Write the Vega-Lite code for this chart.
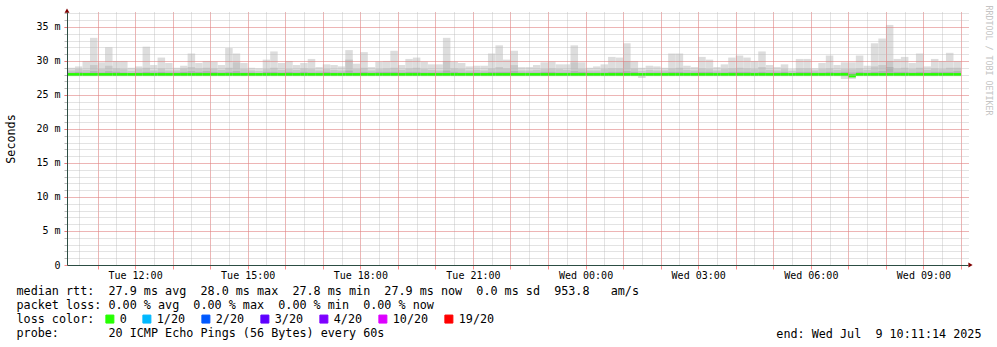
{
  "$schema": "https://vega.github.io/schema/vega-lite/v6.json",
  "width": 901,
  "height": 253,
  "autosize": "none",
  "padding": {"left": 67, "top": 12, "right": 29, "bottom": 82},
  "background": "#ffffff",
  "config": {
    "view": {"stroke": null},
    "font": "DejaVu Sans Mono",
    "axis": {"labelFont": "DejaVu Sans Mono", "titleFont": "DejaVu Sans Mono", "titleFontWeight": "normal", "labelColor": "#000000", "titleColor": "#000000"}
  },
  "data": {"values": [
    {"t":"2025-07-08T10:12","t2":"2025-07-08T10:24","lo":27.8,"med":28.0,"p1":28.3,"p2":28.6,"hi":29.0,"loss":"0"},
    {"t":"2025-07-08T10:24","t2":"2025-07-08T10:36","lo":27.8,"med":28.0,"p1":28.4,"p2":28.8,"hi":29.2,"loss":"0"},
    {"t":"2025-07-08T10:36","t2":"2025-07-08T10:48","lo":27.8,"med":28.0,"p1":28.3,"p2":28.7,"hi":30.0,"loss":"0"},
    {"t":"2025-07-08T10:48","t2":"2025-07-08T11:00","lo":27.8,"med":28.0,"p1":28.5,"p2":29.4,"hi":33.4,"loss":"0"},
    {"t":"2025-07-08T11:00","t2":"2025-07-08T11:12","lo":27.8,"med":28.0,"p1":28.3,"p2":28.8,"hi":29.8,"loss":"0"},
    {"t":"2025-07-08T11:12","t2":"2025-07-08T11:24","lo":27.8,"med":28.0,"p1":28.5,"p2":29.3,"hi":32.0,"loss":"0"},
    {"t":"2025-07-08T11:24","t2":"2025-07-08T11:36","lo":27.8,"med":28.0,"p1":28.4,"p2":28.9,"hi":30.0,"loss":"0"},
    {"t":"2025-07-08T11:36","t2":"2025-07-08T11:48","lo":27.8,"med":28.0,"p1":28.3,"p2":28.8,"hi":30.0,"loss":"0"},
    {"t":"2025-07-08T11:48","t2":"2025-07-08T12:00","lo":27.8,"med":28.0,"p1":28.2,"p2":28.5,"hi":29.0,"loss":"0"},
    {"t":"2025-07-08T12:00","t2":"2025-07-08T12:12","lo":27.8,"med":28.0,"p1":28.3,"p2":28.8,"hi":29.2,"loss":"0"},
    {"t":"2025-07-08T12:12","t2":"2025-07-08T12:24","lo":27.8,"med":28.0,"p1":28.4,"p2":29.0,"hi":32.1,"loss":"0"},
    {"t":"2025-07-08T12:24","t2":"2025-07-08T12:36","lo":27.8,"med":28.0,"p1":28.3,"p2":28.6,"hi":29.4,"loss":"0"},
    {"t":"2025-07-08T12:36","t2":"2025-07-08T12:48","lo":27.8,"med":28.0,"p1":28.4,"p2":28.9,"hi":30.5,"loss":"0"},
    {"t":"2025-07-08T12:48","t2":"2025-07-08T13:00","lo":27.8,"med":28.0,"p1":28.3,"p2":28.6,"hi":29.7,"loss":"0"},
    {"t":"2025-07-08T13:00","t2":"2025-07-08T13:12","lo":27.8,"med":28.0,"p1":28.3,"p2":28.6,"hi":29.0,"loss":"0"},
    {"t":"2025-07-08T13:12","t2":"2025-07-08T13:24","lo":27.8,"med":28.0,"p1":28.4,"p2":28.9,"hi":29.3,"loss":"0"},
    {"t":"2025-07-08T13:24","t2":"2025-07-08T13:36","lo":27.8,"med":28.0,"p1":28.5,"p2":29.1,"hi":31.1,"loss":"0"},
    {"t":"2025-07-08T13:36","t2":"2025-07-08T13:48","lo":27.8,"med":28.0,"p1":28.4,"p2":28.9,"hi":29.7,"loss":"0"},
    {"t":"2025-07-08T13:48","t2":"2025-07-08T14:00","lo":27.8,"med":28.0,"p1":28.5,"p2":29.0,"hi":30.0,"loss":"0"},
    {"t":"2025-07-08T14:00","t2":"2025-07-08T14:12","lo":27.8,"med":28.0,"p1":28.4,"p2":28.9,"hi":29.9,"loss":"0"},
    {"t":"2025-07-08T14:12","t2":"2025-07-08T14:24","lo":27.8,"med":28.0,"p1":28.3,"p2":28.7,"hi":29.4,"loss":"0"},
    {"t":"2025-07-08T14:24","t2":"2025-07-08T14:36","lo":27.8,"med":28.0,"p1":28.4,"p2":29.0,"hi":31.9,"loss":"0"},
    {"t":"2025-07-08T14:36","t2":"2025-07-08T14:48","lo":27.8,"med":28.0,"p1":28.5,"p2":29.8,"hi":31.1,"loss":"0"},
    {"t":"2025-07-08T14:48","t2":"2025-07-08T15:00","lo":27.8,"med":28.0,"p1":28.3,"p2":28.8,"hi":29.7,"loss":"0"},
    {"t":"2025-07-08T15:00","t2":"2025-07-08T15:12","lo":27.8,"med":28.0,"p1":28.3,"p2":28.6,"hi":29.0,"loss":"0"},
    {"t":"2025-07-08T15:12","t2":"2025-07-08T15:24","lo":27.8,"med":28.0,"p1":28.2,"p2":28.5,"hi":28.9,"loss":"0"},
    {"t":"2025-07-08T15:24","t2":"2025-07-08T15:36","lo":27.8,"med":28.0,"p1":28.4,"p2":28.8,"hi":30.2,"loss":"0"},
    {"t":"2025-07-08T15:36","t2":"2025-07-08T15:48","lo":27.8,"med":28.0,"p1":28.4,"p2":29.0,"hi":31.4,"loss":"0"},
    {"t":"2025-07-08T15:48","t2":"2025-07-08T16:00","lo":27.8,"med":28.0,"p1":28.3,"p2":28.7,"hi":29.7,"loss":"0"},
    {"t":"2025-07-08T16:00","t2":"2025-07-08T16:12","lo":27.8,"med":28.0,"p1":28.4,"p2":28.8,"hi":30.0,"loss":"0"},
    {"t":"2025-07-08T16:12","t2":"2025-07-08T16:24","lo":27.8,"med":28.0,"p1":28.3,"p2":28.7,"hi":29.4,"loss":"0"},
    {"t":"2025-07-08T16:24","t2":"2025-07-08T16:36","lo":27.8,"med":28.0,"p1":28.4,"p2":28.9,"hi":29.7,"loss":"0"},
    {"t":"2025-07-08T16:36","t2":"2025-07-08T16:48","lo":27.8,"med":28.0,"p1":28.3,"p2":28.8,"hi":30.3,"loss":"0"},
    {"t":"2025-07-08T16:48","t2":"2025-07-08T17:00","lo":27.8,"med":28.0,"p1":28.3,"p2":28.6,"hi":29.1,"loss":"0"},
    {"t":"2025-07-08T17:00","t2":"2025-07-08T17:12","lo":27.8,"med":28.0,"p1":28.4,"p2":28.8,"hi":29.5,"loss":"0"},
    {"t":"2025-07-08T17:12","t2":"2025-07-08T17:24","lo":27.8,"med":28.0,"p1":28.3,"p2":28.7,"hi":29.4,"loss":"0"},
    {"t":"2025-07-08T17:24","t2":"2025-07-08T17:36","lo":27.8,"med":28.0,"p1":28.3,"p2":28.6,"hi":29.2,"loss":"0"},
    {"t":"2025-07-08T17:36","t2":"2025-07-08T17:48","lo":27.8,"med":28.0,"p1":28.6,"p2":30.2,"hi":31.6,"loss":"0"},
    {"t":"2025-07-08T17:48","t2":"2025-07-08T18:00","lo":27.8,"med":28.0,"p1":28.3,"p2":28.8,"hi":29.6,"loss":"0"},
    {"t":"2025-07-08T18:00","t2":"2025-07-08T18:12","lo":27.8,"med":28.0,"p1":28.4,"p2":29.0,"hi":31.3,"loss":"0"},
    {"t":"2025-07-08T18:12","t2":"2025-07-08T18:24","lo":27.8,"med":28.0,"p1":28.3,"p2":28.6,"hi":29.1,"loss":"0"},
    {"t":"2025-07-08T18:24","t2":"2025-07-08T18:36","lo":27.8,"med":28.0,"p1":28.4,"p2":28.8,"hi":29.9,"loss":"0"},
    {"t":"2025-07-08T18:36","t2":"2025-07-08T18:48","lo":27.8,"med":28.0,"p1":28.4,"p2":28.9,"hi":30.0,"loss":"0"},
    {"t":"2025-07-08T18:48","t2":"2025-07-08T19:00","lo":27.8,"med":28.0,"p1":28.4,"p2":29.0,"hi":31.5,"loss":"0"},
    {"t":"2025-07-08T19:00","t2":"2025-07-08T19:12","lo":27.8,"med":28.0,"p1":28.3,"p2":28.7,"hi":29.4,"loss":"0"},
    {"t":"2025-07-08T19:12","t2":"2025-07-08T19:24","lo":27.8,"med":28.0,"p1":28.4,"p2":28.9,"hi":30.3,"loss":"0"},
    {"t":"2025-07-08T19:24","t2":"2025-07-08T19:36","lo":27.8,"med":28.0,"p1":28.4,"p2":29.0,"hi":30.5,"loss":"0"},
    {"t":"2025-07-08T19:36","t2":"2025-07-08T19:48","lo":27.8,"med":28.0,"p1":28.3,"p2":28.8,"hi":29.9,"loss":"0"},
    {"t":"2025-07-08T19:48","t2":"2025-07-08T20:00","lo":27.8,"med":28.0,"p1":28.3,"p2":28.7,"hi":29.5,"loss":"0"},
    {"t":"2025-07-08T20:00","t2":"2025-07-08T20:12","lo":27.8,"med":28.0,"p1":28.3,"p2":28.6,"hi":29.5,"loss":"0"},
    {"t":"2025-07-08T20:12","t2":"2025-07-08T20:24","lo":27.8,"med":28.0,"p1":28.6,"p2":30.0,"hi":33.4,"loss":"0"},
    {"t":"2025-07-08T20:24","t2":"2025-07-08T20:36","lo":27.8,"med":28.0,"p1":28.4,"p2":28.9,"hi":29.9,"loss":"0"},
    {"t":"2025-07-08T20:36","t2":"2025-07-08T20:48","lo":27.8,"med":28.0,"p1":28.3,"p2":28.8,"hi":29.7,"loss":"0"},
    {"t":"2025-07-08T20:48","t2":"2025-07-08T21:00","lo":27.8,"med":28.0,"p1":28.3,"p2":28.6,"hi":29.2,"loss":"0"},
    {"t":"2025-07-08T21:00","t2":"2025-07-08T21:12","lo":27.8,"med":28.0,"p1":28.3,"p2":28.7,"hi":29.3,"loss":"0"},
    {"t":"2025-07-08T21:12","t2":"2025-07-08T21:24","lo":27.8,"med":28.0,"p1":28.3,"p2":28.6,"hi":29.3,"loss":"0"},
    {"t":"2025-07-08T21:24","t2":"2025-07-08T21:36","lo":27.8,"med":28.0,"p1":28.4,"p2":28.9,"hi":31.1,"loss":"0"},
    {"t":"2025-07-08T21:36","t2":"2025-07-08T21:48","lo":27.8,"med":28.0,"p1":28.4,"p2":29.1,"hi":32.3,"loss":"0"},
    {"t":"2025-07-08T21:48","t2":"2025-07-08T22:00","lo":27.8,"med":28.0,"p1":28.4,"p2":28.9,"hi":30.2,"loss":"0"},
    {"t":"2025-07-08T22:00","t2":"2025-07-08T22:12","lo":27.8,"med":28.0,"p1":28.5,"p2":29.4,"hi":31.5,"loss":"0"},
    {"t":"2025-07-08T22:12","t2":"2025-07-08T22:24","lo":27.8,"med":28.0,"p1":28.3,"p2":28.6,"hi":29.1,"loss":"0"},
    {"t":"2025-07-08T22:24","t2":"2025-07-08T22:36","lo":27.8,"med":28.0,"p1":28.3,"p2":28.6,"hi":29.1,"loss":"0"},
    {"t":"2025-07-08T22:36","t2":"2025-07-08T22:48","lo":27.8,"med":28.0,"p1":28.3,"p2":28.7,"hi":29.4,"loss":"0"},
    {"t":"2025-07-08T22:48","t2":"2025-07-08T23:00","lo":27.8,"med":28.0,"p1":28.4,"p2":28.8,"hi":29.8,"loss":"0"},
    {"t":"2025-07-08T23:00","t2":"2025-07-08T23:12","lo":27.8,"med":28.0,"p1":28.4,"p2":28.9,"hi":29.9,"loss":"0"},
    {"t":"2025-07-08T23:12","t2":"2025-07-08T23:24","lo":27.8,"med":28.0,"p1":28.3,"p2":28.8,"hi":29.5,"loss":"0"},
    {"t":"2025-07-08T23:24","t2":"2025-07-08T23:36","lo":27.8,"med":28.0,"p1":28.3,"p2":28.7,"hi":29.5,"loss":"0"},
    {"t":"2025-07-08T23:36","t2":"2025-07-08T23:48","lo":27.8,"med":28.0,"p1":28.5,"p2":29.8,"hi":32.3,"loss":"0"},
    {"t":"2025-07-08T23:48","t2":"2025-07-09T00:00","lo":27.8,"med":28.0,"p1":28.4,"p2":28.8,"hi":29.8,"loss":"0"},
    {"t":"2025-07-09T00:00","t2":"2025-07-09T00:12","lo":27.8,"med":28.0,"p1":28.3,"p2":28.6,"hi":29.0,"loss":"0"},
    {"t":"2025-07-09T00:12","t2":"2025-07-09T00:24","lo":27.8,"med":28.0,"p1":28.3,"p2":28.6,"hi":29.2,"loss":"0"},
    {"t":"2025-07-09T00:24","t2":"2025-07-09T00:36","lo":27.8,"med":28.0,"p1":28.3,"p2":28.8,"hi":29.5,"loss":"0"},
    {"t":"2025-07-09T00:36","t2":"2025-07-09T00:48","lo":27.8,"med":28.0,"p1":28.4,"p2":28.9,"hi":30.6,"loss":"0"},
    {"t":"2025-07-09T00:48","t2":"2025-07-09T01:00","lo":27.8,"med":28.0,"p1":28.4,"p2":28.9,"hi":30.5,"loss":"0"},
    {"t":"2025-07-09T01:00","t2":"2025-07-09T01:12","lo":27.8,"med":28.0,"p1":28.5,"p2":30.0,"hi":32.6,"loss":"0"},
    {"t":"2025-07-09T01:12","t2":"2025-07-09T01:24","lo":27.8,"med":28.0,"p1":28.4,"p2":28.9,"hi":30.0,"loss":"0"},
    {"t":"2025-07-09T01:24","t2":"2025-07-09T01:36","lo":27.5,"med":28.0,"p1":28.2,"p2":28.5,"hi":29.0,"loss":"0"},
    {"t":"2025-07-09T01:36","t2":"2025-07-09T01:48","lo":27.8,"med":28.0,"p1":28.3,"p2":28.7,"hi":29.3,"loss":"0"},
    {"t":"2025-07-09T01:48","t2":"2025-07-09T02:00","lo":27.8,"med":28.0,"p1":28.3,"p2":28.6,"hi":29.2,"loss":"0"},
    {"t":"2025-07-09T02:00","t2":"2025-07-09T02:12","lo":27.8,"med":28.0,"p1":28.3,"p2":28.6,"hi":29.0,"loss":"0"},
    {"t":"2025-07-09T02:12","t2":"2025-07-09T02:24","lo":27.8,"med":28.0,"p1":28.4,"p2":28.9,"hi":31.1,"loss":"0"},
    {"t":"2025-07-09T02:24","t2":"2025-07-09T02:36","lo":27.8,"med":28.0,"p1":28.4,"p2":29.0,"hi":31.1,"loss":"0"},
    {"t":"2025-07-09T02:36","t2":"2025-07-09T02:48","lo":27.8,"med":28.0,"p1":28.3,"p2":28.7,"hi":29.3,"loss":"0"},
    {"t":"2025-07-09T02:48","t2":"2025-07-09T03:00","lo":27.8,"med":28.0,"p1":28.3,"p2":28.6,"hi":29.1,"loss":"0"},
    {"t":"2025-07-09T03:00","t2":"2025-07-09T03:12","lo":27.8,"med":28.0,"p1":28.4,"p2":28.9,"hi":30.6,"loss":"0"},
    {"t":"2025-07-09T03:12","t2":"2025-07-09T03:24","lo":27.8,"med":28.0,"p1":28.4,"p2":28.8,"hi":30.2,"loss":"0"},
    {"t":"2025-07-09T03:24","t2":"2025-07-09T03:36","lo":27.8,"med":28.0,"p1":28.3,"p2":28.6,"hi":29.1,"loss":"0"},
    {"t":"2025-07-09T03:36","t2":"2025-07-09T03:48","lo":27.8,"med":28.0,"p1":28.3,"p2":28.8,"hi":29.5,"loss":"0"},
    {"t":"2025-07-09T03:48","t2":"2025-07-09T04:00","lo":27.8,"med":28.0,"p1":28.4,"p2":28.9,"hi":30.5,"loss":"0"},
    {"t":"2025-07-09T04:00","t2":"2025-07-09T04:12","lo":27.8,"med":28.0,"p1":28.4,"p2":29.0,"hi":30.8,"loss":"0"},
    {"t":"2025-07-09T04:12","t2":"2025-07-09T04:24","lo":27.8,"med":28.0,"p1":28.4,"p2":28.9,"hi":30.5,"loss":"0"},
    {"t":"2025-07-09T04:24","t2":"2025-07-09T04:36","lo":27.8,"med":28.0,"p1":28.3,"p2":28.8,"hi":30.0,"loss":"0"},
    {"t":"2025-07-09T04:36","t2":"2025-07-09T04:48","lo":27.8,"med":28.0,"p1":28.4,"p2":29.1,"hi":31.4,"loss":"0"},
    {"t":"2025-07-09T04:48","t2":"2025-07-09T05:00","lo":27.8,"med":28.0,"p1":28.3,"p2":28.7,"hi":29.4,"loss":"0"},
    {"t":"2025-07-09T05:00","t2":"2025-07-09T05:12","lo":27.8,"med":28.0,"p1":28.3,"p2":28.6,"hi":29.1,"loss":"0"},
    {"t":"2025-07-09T05:12","t2":"2025-07-09T05:24","lo":27.8,"med":28.0,"p1":28.4,"p2":28.8,"hi":29.5,"loss":"0"},
    {"t":"2025-07-09T05:24","t2":"2025-07-09T05:36","lo":27.8,"med":28.0,"p1":28.2,"p2":28.5,"hi":28.8,"loss":"0"},
    {"t":"2025-07-09T05:36","t2":"2025-07-09T05:48","lo":27.8,"med":28.0,"p1":28.4,"p2":28.9,"hi":30.3,"loss":"0"},
    {"t":"2025-07-09T05:48","t2":"2025-07-09T06:00","lo":27.8,"med":28.0,"p1":28.4,"p2":28.9,"hi":30.3,"loss":"0"},
    {"t":"2025-07-09T06:00","t2":"2025-07-09T06:12","lo":27.8,"med":28.0,"p1":28.3,"p2":28.6,"hi":28.9,"loss":"0"},
    {"t":"2025-07-09T06:12","t2":"2025-07-09T06:24","lo":27.8,"med":28.0,"p1":28.3,"p2":28.8,"hi":29.7,"loss":"0"},
    {"t":"2025-07-09T06:24","t2":"2025-07-09T06:36","lo":27.8,"med":28.0,"p1":28.4,"p2":28.9,"hi":30.8,"loss":"0"},
    {"t":"2025-07-09T06:36","t2":"2025-07-09T06:48","lo":27.8,"med":28.0,"p1":28.3,"p2":28.7,"hi":29.4,"loss":"0"},
    {"t":"2025-07-09T06:48","t2":"2025-07-09T07:00","lo":27.35,"med":28.0,"p1":28.4,"p2":28.8,"hi":29.8,"loss":"0"},
    {"t":"2025-07-09T07:00","t2":"2025-07-09T07:12","lo":27.35,"med":27.8,"p1":28.3,"p2":28.8,"hi":29.8,"loss":"0"},
    {"t":"2025-07-09T07:12","t2":"2025-07-09T07:24","lo":27.8,"med":28.0,"p1":28.4,"p2":28.9,"hi":30.8,"loss":"0"},
    {"t":"2025-07-09T07:24","t2":"2025-07-09T07:36","lo":27.8,"med":28.0,"p1":28.3,"p2":28.7,"hi":29.3,"loss":"0"},
    {"t":"2025-07-09T07:36","t2":"2025-07-09T07:48","lo":27.8,"med":28.0,"p1":28.4,"p2":29.2,"hi":32.6,"loss":"0"},
    {"t":"2025-07-09T07:48","t2":"2025-07-09T08:00","lo":27.8,"med":28.0,"p1":28.5,"p2":29.4,"hi":33.3,"loss":"0"},
    {"t":"2025-07-09T08:00","t2":"2025-07-09T08:12","lo":27.8,"med":28.0,"p1":29.1,"p2":30.0,"hi":35.3,"loss":"0"},
    {"t":"2025-07-09T08:12","t2":"2025-07-09T08:24","lo":27.8,"med":28.0,"p1":28.4,"p2":28.9,"hi":30.3,"loss":"0"},
    {"t":"2025-07-09T08:24","t2":"2025-07-09T08:36","lo":27.8,"med":28.0,"p1":28.4,"p2":29.0,"hi":30.6,"loss":"0"},
    {"t":"2025-07-09T08:36","t2":"2025-07-09T08:48","lo":27.8,"med":28.0,"p1":28.3,"p2":28.8,"hi":29.7,"loss":"0"},
    {"t":"2025-07-09T08:48","t2":"2025-07-09T09:00","lo":27.8,"med":28.0,"p1":28.4,"p2":29.0,"hi":31.1,"loss":"0"},
    {"t":"2025-07-09T09:00","t2":"2025-07-09T09:12","lo":27.8,"med":28.0,"p1":28.3,"p2":28.7,"hi":29.2,"loss":"0"},
    {"t":"2025-07-09T09:12","t2":"2025-07-09T09:24","lo":27.8,"med":28.0,"p1":28.4,"p2":28.9,"hi":30.3,"loss":"0"},
    {"t":"2025-07-09T09:24","t2":"2025-07-09T09:36","lo":27.8,"med":28.0,"p1":28.4,"p2":28.8,"hi":30.0,"loss":"0"},
    {"t":"2025-07-09T09:36","t2":"2025-07-09T09:48","lo":27.8,"med":28.0,"p1":28.4,"p2":29.0,"hi":31.2,"loss":"0"},
    {"t":"2025-07-09T09:48","t2":"2025-07-09T10:00","lo":27.8,"med":28.0,"p1":28.5,"p2":29.0,"hi":30.0,"loss":"0"}
  ]},
  "resolve": {"axis": {"x": "independent", "y": "independent"}},
  "layer": [
    {
      "mark": {"type": "rect", "color": "#dddddd"},
      "encoding": {
        "x": {"field": "t", "type": "temporal",
          "scale": {"domain": [{"year": 2025, "month": 7, "date": 8, "hours": 10, "minutes": 11, "seconds": 14}, {"year": 2025, "month": 7, "date": 9, "hours": 10, "minutes": 11, "seconds": 14}]},
          "axis": {"orient": "bottom", "tickCount": 48, "grid": true, "gridColor": "#bababa", "gridOpacity": 0.8, "gridDash": [1, 1], "labels": false, "ticks": false, "domain": false, "title": null, "zindex": 1}},
        "x2": {"field": "t2"},
        "y": {"field": "lo", "type": "quantitative",
          "scale": {"domain": [0, 37.2], "nice": false, "zero": false},
          "axis": {"orient": "left", "values": [1,2,3,4,5,6,7,8,9,10,11,12,13,14,15,16,17,18,19,20,21,22,23,24,25,26,27,28,29,30,31,32,33,34,35,36,37], "grid": true, "gridColor": "#bababa", "gridOpacity": 0.8, "gridDash": [1, 1], "labels": false, "ticks": true, "tickSize": 3, "tickColor": "#bababa", "domain": false,
            "title": "end: Wed Jul\u00a0\u00a09 10:11:14 2025", "titleAngle": 0, "titleX": 914, "titleY": 321.5, "titleAlign": "right", "titleBaseline": "middle", "titleFontSize": 11.75, "zindex": 1}},
        "y2": {"field": "hi"}
      }
    },
    {
      "mark": {"type": "rect", "color": "#c8c8c8"},
      "encoding": {
        "x": {"field": "t", "type": "temporal",
          "axis": {"orient": "bottom", "tickCount": 24, "grid": true, "gridColor": "#ff5e5e", "gridOpacity": 0.7, "gridDash": [1, 1],
            "labelExpr": "hours(datum.value) % 3 == 0 ? timeFormat(datum.value, '%a %H:%M') : ''", "labelOverlap": false, "labelFontSize": 10, "labelPadding": 1,
            "ticks": true, "tickSize": 4, "tickColor": "#ff5e5e", "tickOpacity": 0.7, "domain": true, "domainColor": "#2c4d43", "title": null, "zindex": 1}},
        "x2": {"field": "t2"},
        "y": {"field": "med", "type": "quantitative",
          "axis": {"orient": "left", "values": [0, 5, 10, 15, 20, 25, 30, 35], "grid": true, "gridColor": "#ff5e5e", "gridOpacity": 0.7, "gridDash": [1, 1],
            "labelExpr": "datum.value == 0 ? '0' : datum.value + ' m'", "labelFontSize": 10, "labelPadding": 4, "ticks": true, "tickSize": 3, "tickColor": "#ff5e5e", "tickOpacity": 0.7,
            "domain": true, "domainColor": "#2c4d43",
            "title": "Seconds", "titleAngle": -90, "titleX": -57, "titleY": 126.5, "titleAlign": "center", "titleBaseline": "middle", "titleFontSize": 11.75, "zindex": 1}},
        "y2": {"field": "p2"}
      }
    },
    {
      "mark": {"type": "rect", "color": "#b2b2b2"},
      "encoding": {
        "x": {"field": "t", "type": "temporal",
          "axis": {"orient": "bottom", "grid": false, "labels": false, "ticks": false, "domain": false,
            "title": ["median rtt:\u00a0\u00a027.9 ms avg\u00a0\u00a028.0 ms max\u00a0\u00a027.8 ms min\u00a0\u00a027.9 ms now\u00a0\u00a00.0 ms sd\u00a0\u00a0953.8\u00a0\u00a0\u00a0am/s",
                      "packet loss: 0.00 % avg\u00a0\u00a00.00 % max\u00a0\u00a00.00 % min\u00a0\u00a00.00 % now",
                      "loss color:",
                      "probe:\u00a0\u00a0\u00a0\u00a0\u00a0\u00a0\u00a020 ICMP Echo Pings (56 Bytes) every 60s"],
            "titleX": -51, "titleY": 20.5, "titleAlign": "left", "titleAnchor": "start", "titleBaseline": "top", "titleFontSize": 11.75, "titleLineHeight": 14}},
        "x2": {"field": "t2"},
        "y": {"field": "med", "type": "quantitative",
          "axis": {"orient": "right", "grid": false, "labels": false, "ticks": false, "domain": false,
            "title": "RRDTOOL / TOBI OETIKER", "titleAngle": 90, "titleX": 19, "titleY": -7, "titleAlign": "left", "titleBaseline": "middle", "titleFontSize": 8.3, "titleColor": "#c4c4c4"}},
        "y2": {"field": "p1"}
      }
    },
    {
      "mark": {"type": "rule", "strokeWidth": 3, "strokeCap": "butt"},
      "encoding": {
        "x": {"field": "t", "type": "temporal", "axis": null},
        "x2": {"field": "t2"},
        "y": {"field": "med", "type": "quantitative", "axis": null},
        "color": {"field": "loss", "type": "nominal",
          "scale": {"domain": ["0", "1/20", "2/20", "3/20", "4/20", "10/20", "19/20"], "range": ["#26ff00", "#00b8ff", "#0059ff", "#5e00ff", "#7e00ff", "#dd00ff", "#ff0000"]},
          "legend": {"title": null, "orient": "none", "legendX": 37, "legendY": 301, "direction": "horizontal", "symbolType": "square", "symbolSize": 64,
            "labelFont": "DejaVu Sans Mono", "labelFontSize": 11.75, "labelColor": "#000000", "labelOffset": 4, "columnPadding": 13, "padding": 0,
            "encode": {"symbols": {"update": {"fill": {"scale": "color", "field": "value"}, "stroke": {"value": "#000000"}, "strokeWidth": {"value": 1}}}}}}
      }
    },
    {
      "data": {"values": [{"arrow": "y"}]},
      "mark": {"type": "point", "shape": "triangle-up", "filled": true, "size": 24, "color": "#7f0000", "opacity": 1},
      "encoding": {
        "x": {"datum": {"year": 2025, "month": 7, "date": 8, "hours": 10, "minutes": 11, "seconds": 14}, "type": "temporal", "axis": null},
        "y": {"datum": 37.41, "type": "quantitative", "axis": null}
      }
    },
    {
      "data": {"values": [{"arrow": "x"}]},
      "mark": {"type": "point", "shape": "triangle-right", "filled": true, "size": 24, "color": "#7f0000", "opacity": 1},
      "encoding": {
        "x": {"datum": {"year": 2025, "month": 7, "date": 9, "hours": 10, "minutes": 15, "seconds": 14}, "type": "temporal", "axis": null},
        "y": {"datum": 0, "type": "quantitative", "axis": null}
      }
    }
  ]
}
